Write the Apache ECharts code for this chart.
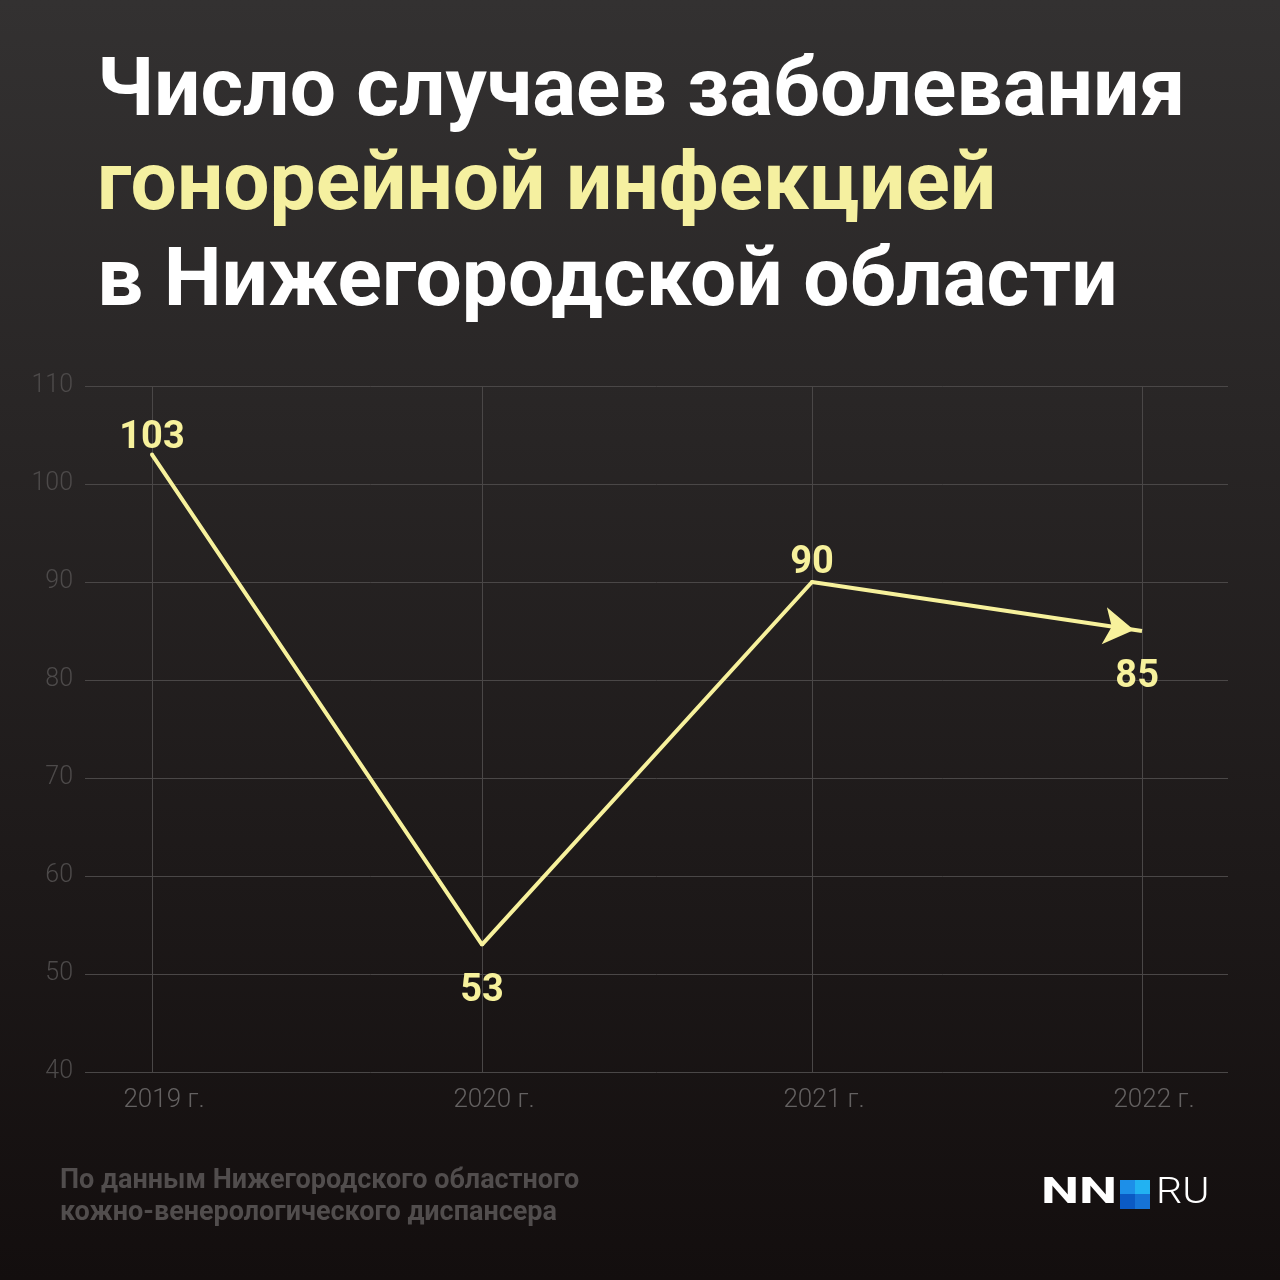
<!DOCTYPE html>
<html><head><meta charset="utf-8">
<script src="https://cdn.jsdelivr.net/npm/echarts@6/dist/echarts.min.js"></script>
<style>html,body{margin:0;padding:0;background:#141010}#c{width:1280px;height:1280px}</style>
</head><body><div id="c"></div>
<script>
const categories = ['2019 г.', '2020 г.', '2021 г.', '2022 г.'];
const cases = [103, 53, 90, 85];
const labelPositions = ['top', 'bottom', 'top', 'bottom'];
const yTicks = [40, 50, 60, 70, 80, 90, 100, 110];
const titleLines = ['Число случаев заболевания', 'гонорейной инфекцией', 'в Нижегородской области'];
const sourceLines = ['По данным Нижегородского областного', 'кожно-венерологического диспансера'];

const YELLOW = '#f7f19c';
const GRIDC = '#4a4747';
const FONT = 'Roboto, "Noto Sans", sans-serif';

const labelStyle = [
  { distance: 0, offset: [0, 5] },
  { distance: 26, offset: [0, 0] },
  { distance: 1, offset: [0, 3] },
  { distance: 10, offset: [18, 0] }
];

const chart = echarts.init(document.getElementById('c'));
const lastIdx = cases.length - 1;
const seriesData = cases.map((v, i) => {
  const d = {
    value: v,
    label: Object.assign({ position: labelPositions[i] }, labelStyle[i])
  };
  if (i === lastIdx) {
    d.symbol = 'arrow';
    d.symbolSize = [28, 30];
    d.symbolRotate = -98;
    d.symbolOffset = [-8, -1];
  }
  return d;
});

chart.setOption({
  backgroundColor: {
    type: 'linear', x: 0, y: 0, x2: 0, y2: 1,
    colorStops: [{ offset: 0, color: '#333131' }, { offset: 1, color: '#130e0e' }]
  },
  animation: false,
  grid: [
    { left: 85, right: 52, top: 386, bottom: 208 },
    { left: 152, right: 138, top: 386, bottom: 208 }
  ],
  xAxis: [
    { gridIndex: 0, type: 'value', show: false, min: 0, max: 1 },
    {
      gridIndex: 1, type: 'category', data: categories, boundaryGap: false,
      axisLine: { show: false }, axisTick: { show: false },
      splitLine: { show: true, lineStyle: { color: GRIDC, width: 1 } },
      axisLabel: { color: '#646161', fontSize: 26, fontFamily: FONT, fontWeight: 300, margin: 15, padding: [0, 0, 0, 24] }
    }
  ],
  yAxis: [
    {
      gridIndex: 0, type: 'value', min: yTicks[0], max: yTicks[yTicks.length - 1], interval: 10,
      axisLine: { show: false }, axisTick: { show: false },
      splitLine: { show: true, lineStyle: { color: GRIDC, width: 1 } },
      axisLabel: { color: '#4d4a4a', fontSize: 25, fontFamily: FONT, fontWeight: 300, margin: 12 }
    },
    { gridIndex: 1, type: 'value', min: yTicks[0], max: yTicks[yTicks.length - 1], interval: 10, show: false, splitLine: { show: false } }
  ],
  series: [{
    type: 'line', xAxisIndex: 1, yAxisIndex: 1,
    data: seriesData,
    symbol: 'circle',
    symbolSize: 4,
    showSymbol: true,
    lineStyle: { color: YELLOW, width: 4 },
    itemStyle: { color: YELLOW },
    label: { show: true, color: YELLOW, fontSize: 38, fontWeight: 'bold', fontFamily: FONT }
  }],
  graphic: [
    { type: 'text', left: 97, top: 53, style: { text: titleLines[0], fill: '#ffffff', font: 'bold 82px ' + FONT } },
    { type: 'text', left: 97, top: 147, style: { text: titleLines[1], fill: '#f5f0a0', font: 'bold 82px ' + FONT } },
    { type: 'text', left: 97, top: 243, style: { text: titleLines[2], fill: '#ffffff', font: 'bold 82px ' + FONT } },
    { type: 'text', left: 60, top: 1168, style: { text: sourceLines[0], fill: '#514d4d', font: 'bold 27px ' + FONT } },
    { type: 'text', left: 60, top: 1200, style: { text: sourceLines[1], fill: '#514d4d', font: 'bold 27px ' + FONT } },
    { type: 'text', x: 1041, y: 1176, scaleX: 1.5, style: { text: 'NN', fill: '#ffffff', font: 'bold 36px ' + FONT } },
    { type: 'rect', shape: { x: 1120, y: 1180, width: 15, height: 14 }, style: { fill: '#1d8fe8' } },
    { type: 'rect', shape: { x: 1135, y: 1180, width: 15, height: 14 }, style: { fill: '#22b2f2' } },
    { type: 'rect', shape: { x: 1120, y: 1194, width: 15, height: 15 }, style: { fill: '#0b5ac4' } },
    { type: 'rect', shape: { x: 1135, y: 1194, width: 15, height: 15 }, style: { fill: '#1673d6' } },
    { type: 'text', x: 1156, y: 1176, scaleX: 1.15, style: { text: 'RU', fill: '#ffffff', font: '300 36px ' + FONT } }
  ]
});
</script></body></html>
